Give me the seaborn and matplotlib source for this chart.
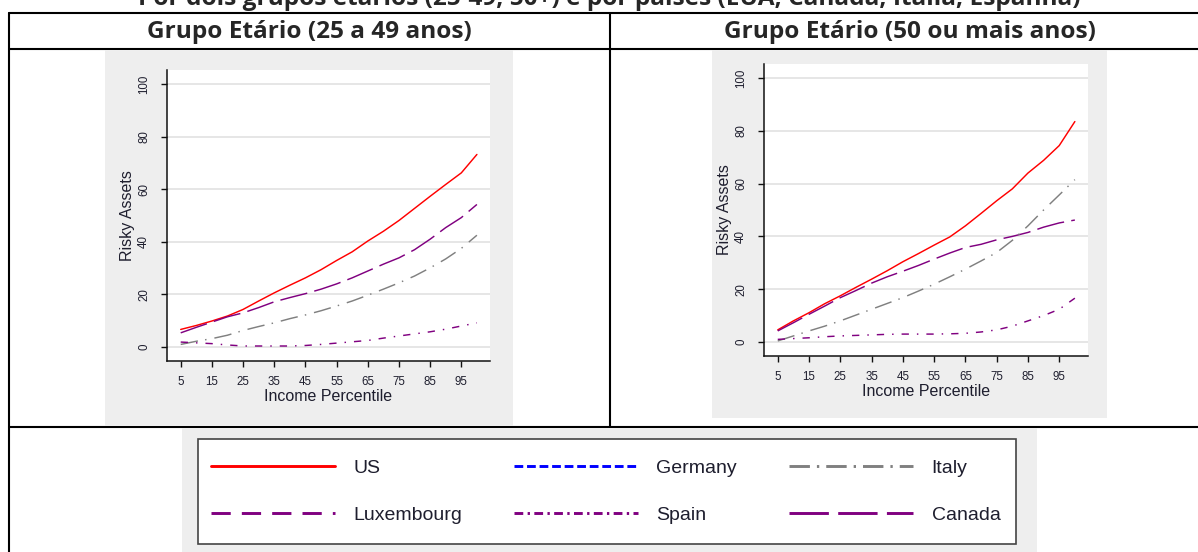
import matplotlib
matplotlib.use("Agg")
import matplotlib.pyplot as plt
from matplotlib.lines import Line2D
from matplotlib.patches import Rectangle
import pandas as pd
import seaborn as sns

# ---------------------------------------------------------------------------
# Data: share of risky assets by income percentile
# ---------------------------------------------------------------------------
percentile = [5, 10, 15, 20, 25, 30, 35, 40, 45, 50,
              55, 60, 65, 70, 75, 80, 85, 90, 95, 100]

us_25_49 = [6.7, 8.2, 9.9, 11.8, 14.3, 17.5, 20.6, 23.5, 26.3, 29.4,
            32.9, 36.2, 40.3, 44.0, 48.1, 52.7, 57.3, 61.8, 66.2, 73.2]
canada_25_49 = [5.4, 7.5, 9.5, 11.5, 13.0, 15.0, 17.2, 18.8, 20.3, 22.0,
                24.0, 26.3, 28.9, 31.5, 33.9, 37.0, 41.0, 45.4, 49.2, 54.2]
italy_25_49 = [1.0, 2.2, 3.2, 4.5, 6.3, 7.8, 9.2, 10.8, 12.2, 13.8,
               15.6, 17.5, 19.7, 22.0, 24.4, 27.0, 30.1, 33.5, 37.5, 42.5]
spain_25_49 = [1.9, 1.6, 1.3, 0.8, 0.4, 0.4, 0.4, 0.4, 0.6, 1.0,
               1.5, 2.0, 2.5, 3.4, 4.2, 5.0, 5.8, 6.8, 8.0, 9.2]

us_50_plus = [4.6, 8.0, 11.1, 14.5, 17.5, 20.7, 23.8, 27.0, 30.4, 33.5,
              36.7, 39.8, 44.0, 48.7, 53.5, 58.0, 64.0, 68.8, 74.4, 83.5]
canada_50_plus = [4.2, 7.3, 10.5, 13.6, 16.8, 19.5, 22.3, 24.7, 26.8, 29.0,
                  31.4, 33.7, 35.8, 37.0, 38.7, 40.0, 41.5, 43.5, 45.1, 46.2]
italy_50_plus = [0.4, 2.3, 4.2, 6.0, 8.0, 10.2, 12.4, 14.6, 16.8, 19.3,
                 21.9, 24.7, 27.6, 30.7, 33.9, 38.5, 44.0, 50.0, 55.7, 61.5]
spain_50_plus = [1.0, 1.3, 1.6, 2.0, 2.3, 2.5, 2.7, 2.9, 3.0, 3.0,
                 3.0, 3.1, 3.3, 3.8, 4.6, 6.0, 8.0, 10.0, 12.4, 16.6]

countries = ["US", "Canada", "Italy", "Spain"]
panel_titles = ["Grupo Etário (25 a 49 anos)", "Grupo Etário (50 ou mais anos)"]
legend_order = ["US", "Luxembourg", "Germany", "Spain", "Italy", "Canada"]
x_ticks = [5, 15, 25, 35, 45, 55, 65, 75, 85, 95]
y_ticks = [0, 20, 40, 60, 80, 100]
top_caption = ("Por dois grupos etários (25-49, 50+) e por países "
               "(EUA, Canadá, Itália, Espanha)")

# ---------------------------------------------------------------------------
# Styling
# ---------------------------------------------------------------------------
sns.set_style("ticks")
plt.rcParams["font.family"] = ["Liberation Sans", "DejaVu Sans"]
header_family = ["Open Sans", "DejaVu Sans"]

colors = {"US": "#ff0000", "Germany": "#0000ff", "Italy": "#808080",
          "Luxembourg": "#800080", "Spain": "#800080", "Canada": "#800080"}
# dash patterns for the thin plot lines (in linewidth units)
plot_dashes = {"US": "", "Canada": (19, 5), "Italy": (12, 5, 1, 5.5),
               "Spain": (5, 5.5, 1, 5.5)}
# dash patterns for the thicker legend samples
legend_dashes = {"US": None, "Germany": (3.0, 1.3), "Italy": (7.0, 2.4, 0.8, 2.4),
                 "Luxembourg": (6.6, 3.8), "Spain": (3.0, 1.5, 0.8, 1.5),
                 "Canada": (13.5, 3.2)}

W, H = 1198, 552
fig = plt.figure(figsize=(W / 100, H / 100), dpi=100)
fig.patch.set_facecolor("white")


def fbox(x0, y0, x1, y1):
    """Pixel box (top-left origin) -> figure fraction rect."""
    return [x0 / W, 1 - y1 / H, (x1 - x0) / W, (y1 - y0) / H]


def fx(x):
    return x / W


def fy(y):
    return 1 - y / H


line_kw = dict(color="black", lw=1.5, transform=fig.transFigure, zorder=1)
# table frame
fig.add_artist(Line2D([fx(9), fx(W)], [fy(12.5), fy(12.5)], **line_kw))
fig.add_artist(Line2D([fx(9), fx(W)], [fy(49), fy(49)], **line_kw))
fig.add_artist(Line2D([fx(9), fx(W)], [fy(426.7), fy(426.7)], **line_kw))
fig.add_artist(Line2D([fx(9), fx(9)], [fy(12.5), fy(H)], **line_kw))
fig.add_artist(Line2D([fx(610), fx(610)], [fy(12.5), fy(426.7)], **line_kw))

# caption above the table (runs past the top edge of the page)
fig.text(fx(609), fy(5.0), top_caption, ha="center", va="baseline",
         fontsize=17.6, fontweight="bold", family=header_family)

# column headers
for cx, title in zip([309, 910], panel_titles):
    fig.text(fx(cx), fy(38.5), title, ha="center", va="baseline",
             fontsize=17.6, fontweight="bold", family=header_family)

# grey graph backgrounds
bg = "#eeeeee"
for (x0, y0, x1, y1) in [(105, 50, 513, 426), (712, 50, 1107, 418),
                         (182, 428, 1037, H)]:
    fig.add_artist(Rectangle((fx(x0), fy(y1)), (x1 - x0) / W, (y1 - y0) / H,
                             transform=fig.transFigure, facecolor=bg,
                             edgecolor="none", zorder=2))

# legend frame
fig.add_artist(Rectangle((fx(197.5), fy(544)), (1016 - 197.5) / W, (544 - 438.5) / H,
                         transform=fig.transFigure, facecolor="white",
                         edgecolor="#444444", lw=1.2, zorder=3))

panels = [
    (fbox(167, 70, 490, 361), [us_25_49, canada_25_49, italy_25_49, spain_25_49]),
    (fbox(764, 64, 1088, 356), [us_50_plus, canada_50_plus, italy_50_plus, spain_50_plus]),
]

text_color = "#1e1e2e"
for rect, series in panels:
    ax = fig.add_axes(rect, zorder=4)
    ax.set_facecolor("white")
    df = pd.DataFrame({
        "percentile": percentile * len(countries),
        "risky": [v for s in series for v in s],
        "country": [c for c in countries for _ in percentile],
    })
    ax.set_axisbelow(True)
    ax.grid(axis="y", color="#e6e6e6", lw=1.4)
    sns.lineplot(data=df, x="percentile", y="risky", hue="country",
                 style="country", hue_order=countries, style_order=countries,
                 palette={c: colors[c] for c in countries},
                 dashes=plot_dashes, linewidth=1.05, legend=False,
                 estimator=None, ax=ax)
    ax.set_xlim(0.6, 104.2)
    ax.set_ylim(-5.3, 105.3)
    ax.set_xticks(x_ticks)
    ax.set_yticks(y_ticks)
    for side in ["top", "right"]:
        ax.spines[side].set_visible(False)
    for side in ["left", "bottom"]:
        ax.spines[side].set_color("#111111")
        ax.spines[side].set_linewidth(1.1)
    ax.tick_params(axis="both", direction="out", length=4.3, width=1.0,
                   color="#111111", labelsize=8.3, labelcolor=text_color)
    ax.tick_params(axis="x", pad=6.3)
    ax.tick_params(axis="y", pad=7.8, labelrotation=90)
    for lab in ax.get_yticklabels():
        lab.set_va("center")
    ax.set_xlabel("Income Percentile", fontsize=11.5, color=text_color, labelpad=1)
    ax.set_ylabel("Risky Assets", fontsize=11.5, color=text_color, labelpad=2)

# legend (includes every country of the study)
handles = []
for name in legend_order:
    kw = dict(color=colors[name], lw=2.1)
    if legend_dashes[name] is not None:
        kw["dashes"] = legend_dashes[name]
    handles.append(Line2D([], [], **kw))
leg = fig.legend(handles, legend_order, ncol=3, loc="center",
                 bbox_to_anchor=(fx(605.5), fy(491.5)), frameon=False,
                 fontsize=14, handlelength=6.4, handletextpad=0.93,
                 columnspacing=2.67, labelspacing=1.5)
leg.set_zorder(5)
for t in leg.get_texts():
    t.set_color(text_color)

fig.savefig("out.png", dpi=100)
